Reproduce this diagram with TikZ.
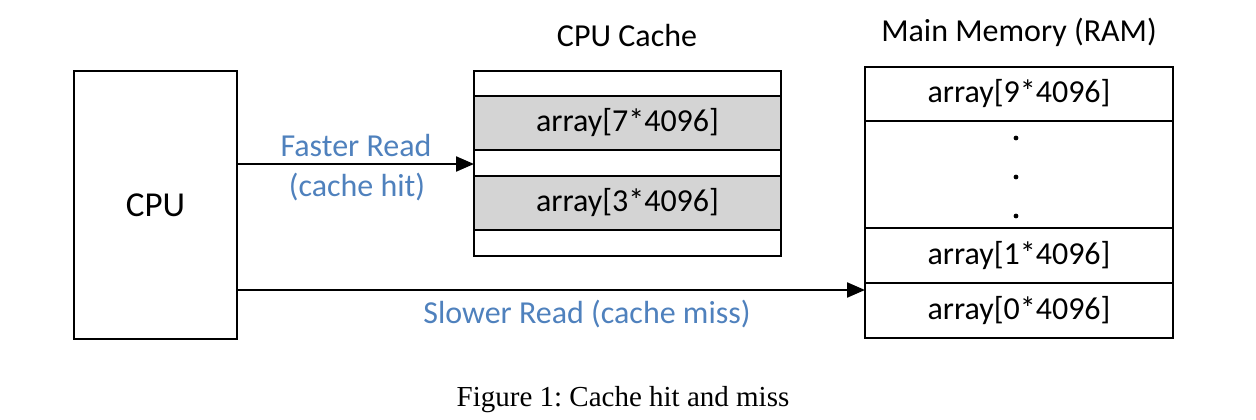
\documentclass[tikz,border=0pt]{standalone}
\usepackage{fontspec}
\setmainfont{Carlito}
\newfontfamily\capfont{Liberation Serif}
\usetikzlibrary{arrows.meta,calc}
\definecolor{lblue}{RGB}{79,129,189}
\definecolor{cellgray}{RGB}{212,212,212}
\frenchspacing
\begin{document}
\begin{tikzpicture}[x=1pt,y=-1pt,
  box/.style={draw=black,line width=2.2pt,inner sep=0pt,outer sep=0pt},
  cell/.style={draw=black,line width=2.2pt,inner sep=0pt,outer sep=0pt,font=\fontsize{32}{36}\selectfont},
  lbl/.style={text=lblue,font=\fontsize{32}{40}\selectfont,align=center},
  ttl/.style={font=\fontsize{32}{36}\selectfont},
  arr/.style={line width=2.2pt,-{Triangle[length=18pt,width=15pt]}}]
\useasboundingbox (0,0) rectangle (1256,420);
% CPU
\node[box,minimum width=163pt,minimum height=268pt,font=\fontsize{35}{40}\selectfont] (cpu) at (155.5,205) {CPU};
% Cache
\node[ttl] (cachet) at (627,36) {CPU Cache};
\node[box,minimum width=307pt,minimum height=185pt] (cache) at (627.5,163.5) {};
\node[cell,fill=cellgray,minimum width=307pt,minimum height=54pt] (c7) at (627.5,123) {array[7*4096]};
\node[cell,fill=cellgray,minimum width=307pt,minimum height=54pt] (c3) at (627.5,203) {array[3*4096]};
% Memory
\node[ttl] (memt) at (1019,32) {Main Memory (RAM)};
\node[cell,minimum width=308pt,minimum height=54pt] (m9) at (1019,94) {array[9*4096]};
\node[cell,minimum width=308pt,minimum height=107pt] (mdots) at (1019,174.5) {};
\node[cell,minimum width=308pt,minimum height=55pt] (m1) at (1019,255.5) {array[1*4096]};
\node[cell,minimum width=308pt,minimum height=55pt] (m0) at (1019,310.5) {array[0*4096]};
\node[box,minimum width=308pt,minimum height=271pt] (mem) at (1019,202.5) {};
\fill (1016,138) circle (2.4pt) (1016,177) circle (2.4pt) (1016,216) circle (2.4pt);
% arrows
\coordinate (fy) at (0,164);
\coordinate (sy) at (0,290);
\draw[arr] (cpu.east |- fy) -- (cache.west |- fy);
\draw[arr] (cpu.east |- sy) -- (mem.west |- sy);
\node[lbl] (fast) at (356,146) {Faster Read};
\node[lbl] (hit) at (357,187) {(cache hit)};
\node[lbl] (slow) at (587,314) {Slower Read (cache miss)};
% caption
\node[font=\capfont\fontsize{29}{34}\selectfont] (cap) at (623,400) {Figure 1: Cache hit and miss};
\end{tikzpicture}
\end{document}
